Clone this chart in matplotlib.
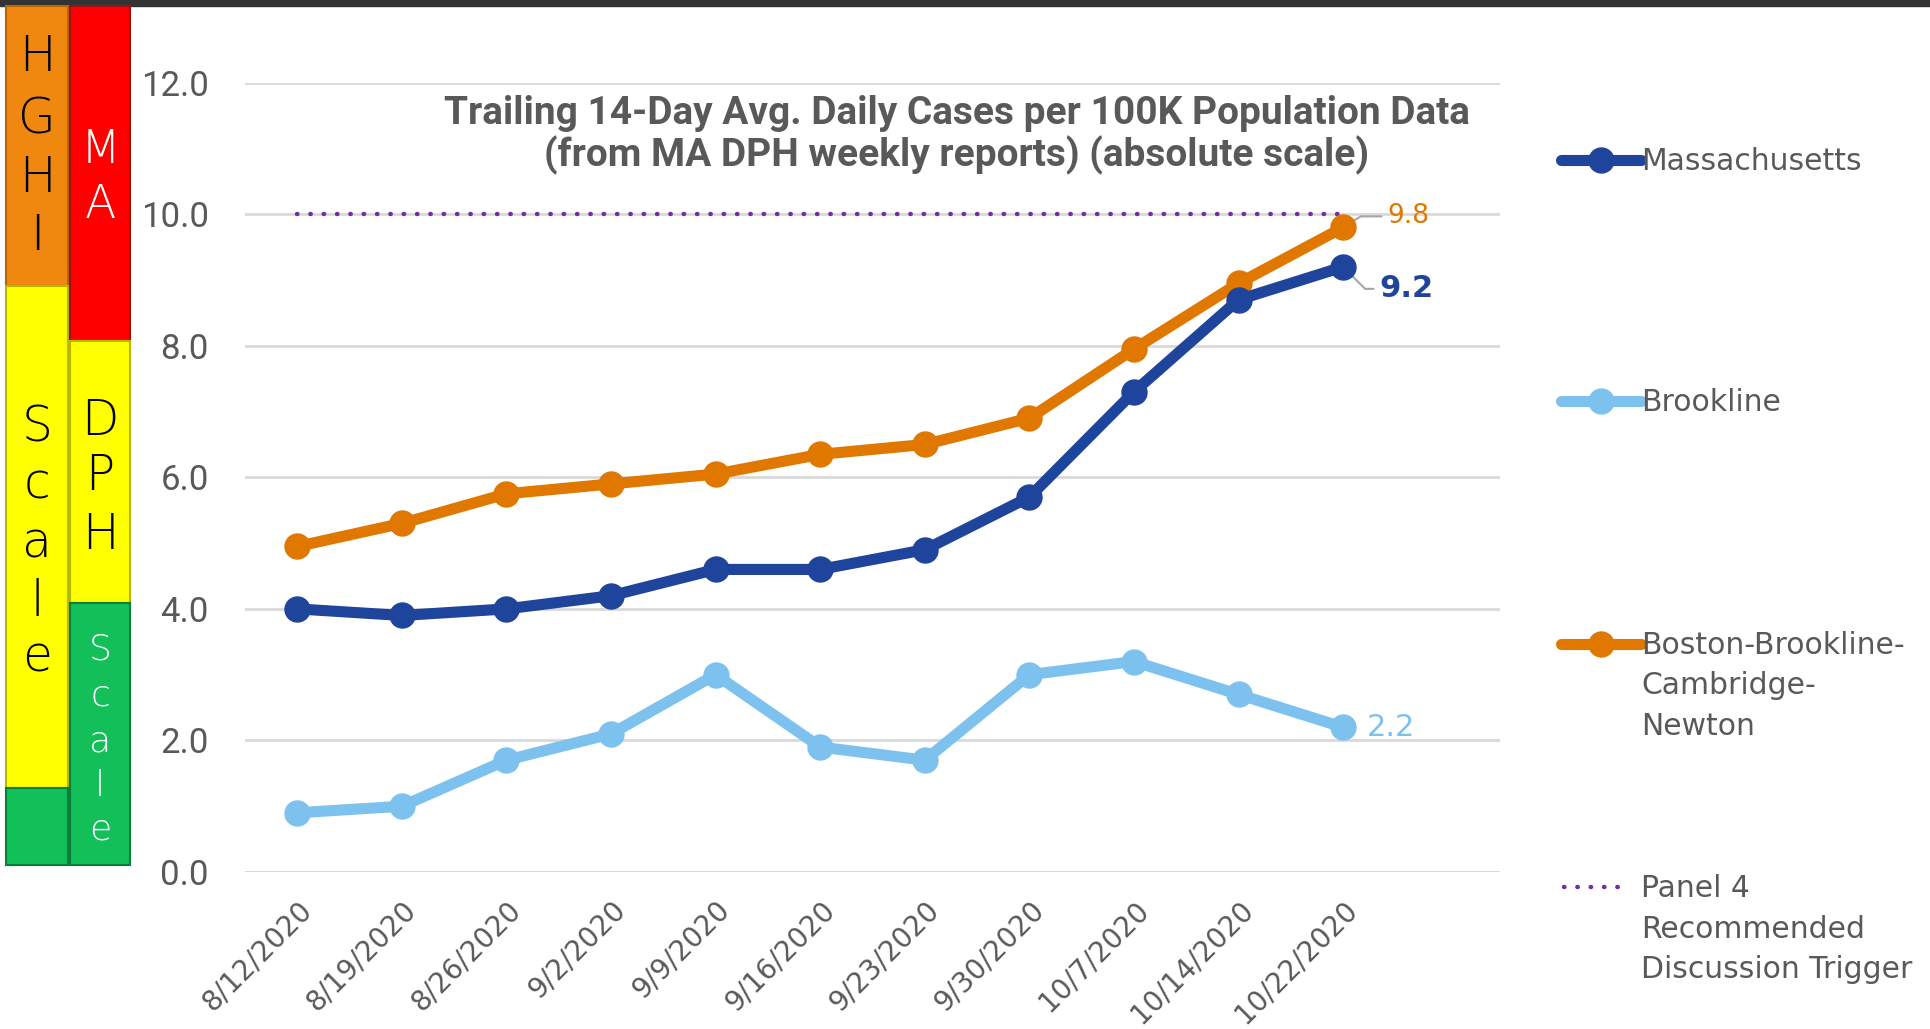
import matplotlib
matplotlib.use('Agg')
import matplotlib.pyplot as plt
from matplotlib.patches import Rectangle
from matplotlib.lines import Line2D
from matplotlib.transforms import ScaledTranslation

# data
dates = ['8/12/2020', '8/19/2020', '8/26/2020', '9/2/2020', '9/9/2020', '9/16/2020',
         '9/23/2020', '9/30/2020', '10/7/2020', '10/14/2020', '10/22/2020']
mass = [4.0, 3.9, 4.0, 4.2, 4.6, 4.6, 4.9, 5.7, 7.3, 8.7, 9.2]
brookline = [0.9, 1.0, 1.7, 2.1, 3.0, 1.9, 1.7, 3.0, 3.2, 2.7, 2.2]
bbcn = [4.95, 5.3, 5.75, 5.9, 6.05, 6.35, 6.5, 6.9, 7.95, 8.95, 9.8]
trigger = [10.0] * len(dates)
yticks = [0, 2, 4, 6, 8, 10, 12]

c_mass = '#1F449C'
c_brk = '#7DC2EE'
c_bbcn = '#E07800'
c_trig = '#7030A0'
grey = '#595959'

W, H = 1931, 1029
fig = plt.figure(figsize=(W / 100, H / 100), dpi=100)


def fx(x):
    return x / W


def fy(y):
    return 1 - y / H


# dark band at the top
fig.patches.append(Rectangle((0, fy(6)), 1, 6 / H, transform=fig.transFigure,
                             color='#333333', zorder=0))

# left side colour scales (decoration)
bars = [
    (6, 68, 6, 286, '#F0880F', '#B86508'),
    (6, 68, 286, 788, '#FFFF00', '#B8B800'),
    (6, 68, 788, 865, '#12BF58', '#0A7F3A'),
    (70, 130, 6, 341, '#FF0000', '#A01010'),
    (70, 130, 341, 603, '#FFFF00', '#B8B800'),
    (70, 130, 603, 865, '#12BF58', '#0A7F3A'),
]
for x0, x1, y0, y1, fc, ec in bars:
    fig.patches.append(Rectangle((fx(x0), fy(y1)), (x1 - x0) / W, (y1 - y0) / H,
                                 transform=fig.transFigure, facecolor=fc,
                                 edgecolor=ec, lw=1.5, zorder=1))

letters = [
    ('H', 37, 57, 'black', 35), ('G', 37, 119, 'black', 35), ('H', 37, 178, 'black', 35),
    ('I', 37, 236, 'black', 35),
    ('S', 37, 427, 'black', 35), ('c', 37, 485, 'black', 35), ('a', 37, 544, 'black', 35),
    ('l', 37, 602, 'black', 35), ('e', 37, 657, 'black', 35),
    ('M', 100, 150, 'white', 33), ('A', 100, 205, 'white', 33),
    ('D', 100, 421, 'black', 35), ('P', 100, 476, 'black', 35), ('H', 100, 535, 'black', 35),
    ('S', 100, 649, 'white', 26), ('c', 100, 695, 'white', 26), ('a', 100, 741, 'white', 26),
    ('l', 100, 786, 'white', 26), ('e', 100, 830, 'white', 26),
]
for ch, x, y, col, sz in letters:
    fig.text(fx(x), fy(y), ch, color=col, fontsize=sz, ha='center', va='center',
             family='DejaVu Sans', fontweight='light', zorder=3)

# main axes
ax = fig.add_axes([fx(245), fy(872), (1500 - 245) / W, (872 - 82.7) / H])
x = list(range(len(dates)))

ax.plot(x[:len(trigger)], trigger, color=c_trig, lw=3.2, linestyle=(0, (0.1, 2.9)),
        dash_capstyle='round', zorder=2)
ax.plot(x, brookline, color=c_brk, lw=8, marker='o', ms=18, zorder=3)
ax.plot(x, bbcn, color=c_bbcn, lw=8, marker='o', ms=18, zorder=4)
ax.plot(x, mass, color=c_mass, lw=8, marker='o', ms=18, zorder=5)

ax.set_xlim(-0.5, 11.5)
ax.set_ylim(0, 12)
ax.set_yticks(yticks)
ax.set_yticklabels(['%.1f' % v for v in yticks], family='Roboto', fontsize=25, color=grey)
ax.set_xticks(x)
ax.set_xticklabels(dates, rotation=45, ha='right', rotation_mode='anchor',
                   fontsize=20, color=grey, family='DejaVu Sans')
shift = ScaledTranslation(5 / 100, 0, fig.dpi_scale_trans)
for lab in ax.get_xticklabels():
    lab.set_transform(lab.get_transform() + shift)
ax.tick_params(axis='y', length=0, pad=26)
ax.tick_params(axis='x', length=0, pad=17)
ax.grid(axis='y', color='#D9D9D9', lw=2)
ax.set_axisbelow(True)
for s in ax.spines.values():
    s.set_visible(False)
ax.axhline(0, color='#D9D9D9', lw=2, zorder=1)

ax.text(0.567, 0.934, 'Trailing 14-Day Avg. Daily Cases per 100K Population Data\n'
        '(from MA DPH weekly reports) (absolute scale)',
        transform=ax.transAxes, ha='center', va='center', fontsize=28,
        fontweight='bold', color=grey, linespacing=1.1,
        family=['Liberation Sans Narrow', 'DejaVu Sans Condensed', 'Roboto'])

# end-point data labels
last = len(dates) - 1
ax.annotate('%.1f' % bbcn[last], (last, bbcn[last]), xytext=(44, 11),
            textcoords='offset pixels', color=c_bbcn, fontsize=19, va='center',
            ha='left', family='DejaVu Sans',
            arrowprops=dict(arrowstyle='-', color='#A6A6A6', lw=1.5, shrinkA=2, shrinkB=0,
                            connectionstyle='angle,angleA=0,angleB=32'), zorder=1)
ax.annotate('%.1f' % mass[last], (last, mass[last]), xytext=(36, -22),
            textcoords='offset pixels', color=c_mass, fontsize=22, fontweight='bold',
            va='center', ha='left', family='DejaVu Sans',
            arrowprops=dict(arrowstyle='-', color='#A6A6A6', lw=1.5, shrinkA=2, shrinkB=0,
                            connectionstyle='angle,angleA=0,angleB=-45'), zorder=1)
ax.annotate('%.1f' % brookline[last], (last, brookline[last]), xytext=(24, 0),
            textcoords='offset pixels', color=c_brk, fontsize=22, va='center',
            ha='left', family='DejaVu Sans')

# legend drawn at the right
lax = fig.add_axes([0, 0, 1, 1], zorder=-1)
lax.set_xlim(0, W)
lax.set_ylim(H, 0)
lax.axis('off')
entries = [
    ('Massachusetts', c_mass, '-', 160),
    ('Brookline', c_brk, '-', 401),
    ('Boston-Brookline-\nCambridge-\nNewton', c_bbcn, '-', 644),
    ('Panel 4\nRecommended\nDiscussion Trigger', c_trig, ':', 887),
]
for label, col, ls, yy in entries:
    if ls == '-':
        lax.add_line(Line2D([1561, 1641], [yy, yy], color=col, lw=8,
                            solid_capstyle='round'))
        lax.add_line(Line2D([1601], [yy], color=col, marker='o', ms=18))
    else:
        lax.add_line(Line2D([1564, 1628], [yy, yy], color=col, lw=3.2,
                            linestyle=(0, (0.1, 2.9)), dash_capstyle='round'))
    lax.text(1641, yy - 13, label, color=grey, fontsize=21.5, va='top', ha='left',
             family='DejaVu Sans', linespacing=1.5)

fig.savefig('out.png', dpi=100)
